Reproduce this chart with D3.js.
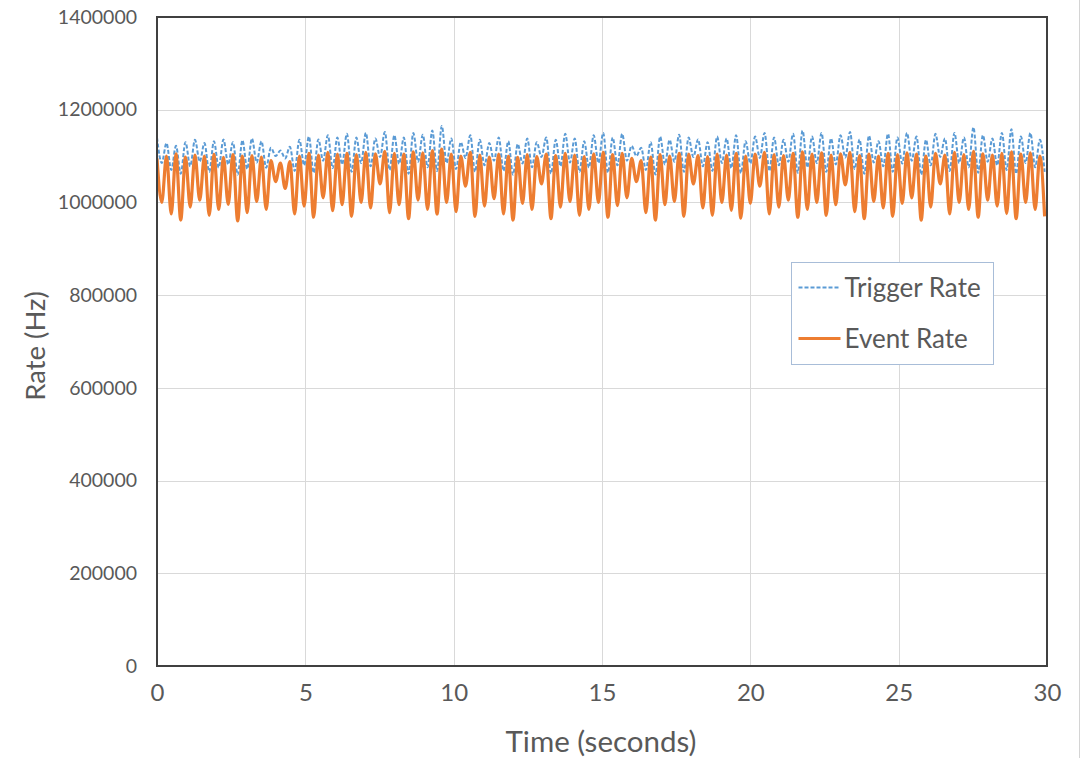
<!DOCTYPE html>
<html>
<head>
<meta charset="utf-8">
<script src="https://cdn.jsdelivr.net/npm/d3@7"></script>
<style>
  html, body { margin: 0; padding: 0; background: #fff; }
  svg { display: block; font-family: Lato, "Open Sans", sans-serif; }
</style>
</head>
<body>
<svg id="chart" width="1084" height="758"></svg>
<script>
// sampled every half cycle: peak, trough, peak, trough ...
const halfStep = 0.16; // seconds between a peak and the next trough

const eventPeaks = [
  1095000, 1100000, 1105000, 1098000, 1102000, 1100000, 1104000, 1097000, 1103000, 1100000,
  1101000, 1098000, 1090000, 1085000, 1088000, 1100000, 1106000, 1102000, 1108000, 1104000,
  1106000, 1103000, 1108000, 1105000, 1110000, 1106000, 1104000, 1109000, 1107000, 1112000,
  1115000, 1104000, 1100000, 1108000, 1102000, 1098000, 1104000, 1100000, 1097000, 1103000,
  1099000, 1104000, 1101000, 1106000, 1102000, 1099000, 1105000, 1108000, 1103000, 1106000,
  1095000, 1090000, 1098000, 1103000, 1100000, 1106000, 1104000, 1101000, 1099000, 1104000,
  1102000, 1106000, 1100000, 1104000, 1108000, 1103000, 1101000, 1106000, 1109000, 1104000,
  1107000, 1102000, 1105000, 1108000, 1101000, 1104000, 1100000, 1106000, 1103000, 1107000,
  1104000, 1100000, 1106000, 1102000, 1108000, 1103000, 1110000, 1105000, 1102000, 1106000,
  1109000, 1104000, 1107000, 1100000
];
const eventTroughs = [
  1000000, 975000, 962000, 990000, 1005000, 972000, 985000, 996000, 960000, 978000,
  1002000, 985000, 1045000, 1030000, 975000, 992000, 968000, 1010000, 982000, 995000,
  970000, 1000000, 988000, 1040000, 978000, 995000, 965000, 1005000, 985000, 975000,
  1000000, 980000, 1035000, 970000, 992000, 1008000, 975000, 962000, 998000, 985000,
  1040000, 965000, 990000, 1002000, 972000, 985000, 1000000, 968000, 993000, 1010000,
  1045000, 978000, 962000, 995000, 1002000, 970000, 1040000, 988000, 972000, 1000000,
  983000, 966000, 998000, 1035000, 975000, 990000, 1005000, 968000, 985000, 1000000,
  972000, 995000, 1038000, 980000, 965000, 1002000, 988000, 970000, 998000, 1010000,
  962000, 990000, 1040000, 975000, 1000000, 985000, 968000, 1005000, 992000, 976000,
  965000, 1000000, 985000, 970000
];
const triggerPeaks = [
  1140000, 1128000, 1122000, 1130000, 1135000, 1128000, 1132000, 1136000, 1130000, 1134000,
  1138000, 1132000, 1118000, 1112000, 1120000, 1135000, 1142000, 1136000, 1145000, 1140000,
  1148000, 1140000, 1150000, 1138000, 1152000, 1145000, 1140000, 1150000, 1146000, 1155000,
  1165000, 1138000, 1130000, 1145000, 1135000, 1128000, 1140000, 1132000, 1126000, 1138000,
  1130000, 1140000, 1135000, 1148000, 1138000, 1132000, 1145000, 1150000, 1140000, 1148000,
  1122000, 1118000, 1130000, 1142000, 1135000, 1146000, 1140000, 1136000, 1130000, 1142000,
  1138000, 1145000, 1132000, 1142000, 1150000, 1140000, 1135000, 1148000, 1155000, 1142000,
  1150000, 1138000, 1145000, 1152000, 1136000, 1144000, 1132000, 1148000, 1140000, 1150000,
  1142000, 1135000, 1148000, 1138000, 1150000, 1140000, 1162000, 1145000, 1138000, 1150000,
  1158000, 1142000, 1150000, 1135000
];
const triggerTroughs = [
  1085000, 1070000, 1062000, 1078000, 1088000, 1066000, 1075000, 1082000, 1060000, 1072000,
  1086000, 1075000, 1100000, 1095000, 1068000, 1080000, 1064000, 1090000, 1074000, 1082000,
  1066000, 1085000, 1078000, 1098000, 1070000, 1083000, 1062000, 1088000, 1076000, 1068000,
  1085000, 1072000, 1096000, 1066000, 1080000, 1090000, 1068000, 1060000, 1084000, 1076000,
  1098000, 1062000, 1078000, 1086000, 1066000, 1075000, 1085000, 1064000, 1080000, 1090000,
  1100000, 1070000, 1060000, 1082000, 1088000, 1066000, 1098000, 1078000, 1068000, 1085000,
  1074000, 1063000, 1084000, 1096000, 1068000, 1080000, 1088000, 1064000, 1076000, 1085000,
  1066000, 1082000, 1097000, 1072000, 1062000, 1086000, 1078000, 1066000, 1084000, 1090000,
  1060000, 1080000, 1098000, 1068000, 1085000, 1076000, 1064000, 1088000, 1080000, 1070000,
  1062000, 1085000, 1076000, 1066000
];

const xTicks = [0, 5, 10, 15, 20, 25, 30];
const yTicks = [0, 200000, 400000, 600000, 800000, 1000000, 1200000, 1400000];
const seriesNames = ["Trigger Rate", "Event Rate"];
const seriesColors = ["#5b9bd5", "#ed7d31"];

// interleave peaks and troughs into one time series
function buildSeries(peaks, troughs) {
  const out = [];
  peaks.forEach((p, i) => {
    out.push({ t: (2 * i) * halfStep, v: p });
    out.push({ t: (2 * i + 1) * halfStep, v: troughs[i] });
  });
  return out;
}
const triggerData = buildSeries(triggerPeaks, triggerTroughs);
const eventData = buildSeries(eventPeaks, eventTroughs);

const margin = { left: 157, right: 37, top: 17, bottom: 92 };
const W = 1084, H = 758;
const svg = d3.select("#chart");
const textColor = "#595959";
const fontFamily = "Lato, 'Open Sans', sans-serif";

const x = d3.scaleLinear().domain([0, 30]).range([margin.left, W - margin.right]);
const y = d3.scaleLinear().domain([0, 1400000]).range([H - margin.bottom, margin.top]);

// page edge line on the right
svg.append("line")
  .attr("x1", 1079.5).attr("x2", 1079.5).attr("y1", 0).attr("y2", H)
  .attr("stroke", "#d4d4d4").attr("stroke-width", 1);

// gridlines
svg.append("g")
  .selectAll("line")
  .data(yTicks.slice(1, -1))
  .join("line")
  .attr("x1", x(0)).attr("x2", x(30))
  .attr("y1", d => Math.round(y(d)) + 0.5).attr("y2", d => Math.round(y(d)) + 0.5)
  .attr("stroke", "#d9d9d9");

svg.append("g")
  .selectAll("line")
  .data(xTicks.slice(1, -1))
  .join("line")
  .attr("y1", y(0)).attr("y2", y(1400000))
  .attr("x1", d => Math.round(x(d)) + 0.5).attr("x2", d => Math.round(x(d)) + 0.5)
  .attr("stroke", "#d9d9d9");

// axes (labels only, Excel style)
const yAxis = svg.append("g")
  .attr("transform", `translate(${x(0) - 20},0)`)
  .call(d3.axisLeft(y).tickValues(yTicks).tickSize(0).tickPadding(0).tickFormat(d3.format("d")))
  .attr("font-family", fontFamily)
  .attr("font-size", 19.5);
yAxis.select(".domain").remove();
yAxis.selectAll("text").attr("fill", textColor);

const xAxis = svg.append("g")
  .attr("transform", `translate(0,${y(0) + 18})`)
  .call(d3.axisBottom(x).tickValues(xTicks).tickSize(0).tickPadding(0).tickFormat(d3.format("d")))
  .attr("font-family", fontFamily)
  .attr("font-size", 24);
xAxis.select(".domain").remove();
xAxis.selectAll("text").attr("fill", textColor);

// lines
const line = d3.line()
  .x(d => x(d.t))
  .y(d => y(d.v))
  .curve(d3.curveMonotoneX);

svg.append("clipPath").attr("id", "plotClip")
  .append("rect")
  .attr("x", x(0)).attr("y", y(1400000))
  .attr("width", x(30) - x(0)).attr("height", y(0) - y(1400000));

svg.append("path")
  .datum(triggerData)
  .attr("clip-path", "url(#plotClip)")
  .attr("d", line)
  .attr("fill", "none")
  .attr("stroke", seriesColors[0])
  .attr("stroke-width", 2)
  .attr("stroke-dasharray", "4,2");

svg.append("path")
  .datum(eventData)
  .attr("clip-path", "url(#plotClip)")
  .attr("d", line)
  .attr("fill", "none")
  .attr("stroke", seriesColors[1])
  .attr("stroke-width", 3.2);

// plot frame
svg.append("rect")
  .attr("x", x(0)).attr("y", y(1400000))
  .attr("width", x(30) - x(0)).attr("height", y(0) - y(1400000))
  .attr("fill", "none")
  .attr("stroke", "#404040")
  .attr("stroke-width", 2);

// axis titles
svg.append("text")
  .attr("x", (x(0) + x(30)) / 2 - 1)
  .attr("y", 752)
  .attr("text-anchor", "middle")
  .attr("fill", textColor)
  .style("font-size", "29.5px")
  .text("Time (seconds)");

svg.append("text")
  .attr("transform", "translate(45,346) rotate(-90)")
  .attr("text-anchor", "middle")
  .attr("fill", textColor)
  .style("font-size", "27.5px")
  .text("Rate (Hz)");

// legend
const legend = svg.append("g").attr("transform", "translate(791.5,262.5)");
legend.append("rect")
  .attr("width", 202).attr("height", 102)
  .attr("fill", "#fff")
  .attr("stroke", "#a8bdd8")
  .attr("stroke-width", 1);

seriesNames.forEach((name, i) => {
  const ly = 25 + i * 51;
  legend.append("line")
    .attr("x1", 7).attr("x2", 49).attr("y1", ly).attr("y2", ly)
    .attr("stroke", seriesColors[i])
    .attr("stroke-width", i === 0 ? 2 : 3)
    .attr("stroke-dasharray", i === 0 ? "4,2" : null);
  legend.append("text")
    .attr("x", 53).attr("y", ly + 9)
    .attr("fill", textColor)
    .style("font-size", "26px")
    .text(name);
});
</script>
</body>
</html>
